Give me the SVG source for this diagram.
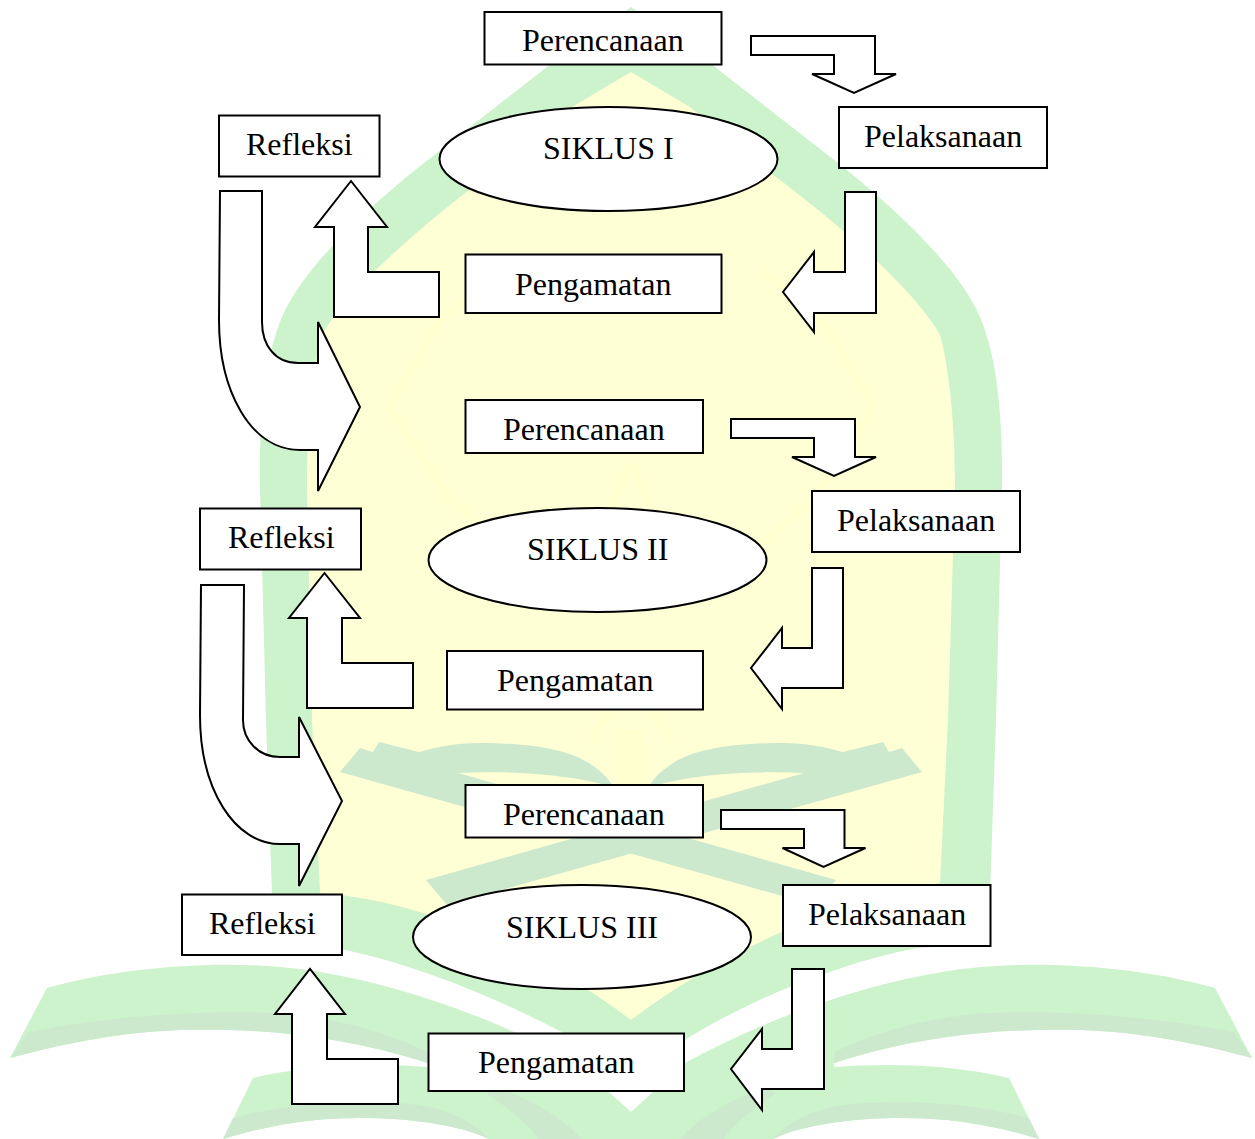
<svg xmlns="http://www.w3.org/2000/svg" width="1255" height="1139" viewBox="0 0 1255 1139">
<style>
.g{fill:#ccf3cc}
.y{fill:#ffffd6}
.d{fill:#cde9cd}
.f{fill:none;stroke:#ffffd0;stroke-width:8}
.n{fill:#fff;stroke:#000;stroke-width:2}
.c{fill:#fff;stroke:#000;stroke-width:2;stroke-linejoin:miter}
text{font-family:"Liberation Serif","Times New Roman",serif;font-size:32px;fill:#000}
</style>
<defs>
<g id="page">
<path class="g" d="M47,988C110,970 200,960 281,967C370,975 480,1010 577,1063L631,1112V1139H489C460,1125 410,1118 360,1118C310,1118 270,1125 223,1139L253,1078C300,1066 370,1062 428,1067V1063C340,1035 260,1028 180,1030C110,1033 60,1045 10,1058Z"/>
<path class="d" d="M10,1058L28,1032C100,1018 180,1012 241,1012C310,1012 370,1025 428,1052V1063C340,1035 260,1028 180,1030C110,1033 60,1045 10,1058Z"/>
<path class="d" d="M223,1139L233,1118C280,1105 340,1100 396,1103C440,1105 470,1118 489,1139C460,1125 410,1118 360,1118C310,1118 270,1125 223,1139Z"/>
<path class="d" d="M486,1093C510,1110 530,1125 538,1139H582C560,1115 530,1100 500,1088Z"/>
</g>
<path id="wing" class="d" d="M340,772L360,748L373,752L379,742L419,752C440,746 460,743 478,743C510,743 560,745 589,763C600,770 608,778 612,785H605C570,775 510,770 458,773L836,880L815,905L750,887Z"/>
</defs>
<g id="watermark">
<path class="g" d="M631,7L710,63L838,163C900,212 960,270 980,317C996,355 1003,410 1002,487L996,720L990,895L987,945L917,948C830,965 740,1005 685,1040L631,1088L577,1040C530,1015 440,970 345,950L275,945L272,895L266,720L260,487C259,410 266,355 282,317C302,270 362,212 424,163L552,63Z"/>
<path class="y" d="M631,72L690,107L776,177C840,225 915,290 940,335C950,370 955,430 955,487L948,720L940,883C842,900 722,950 631,1020C540,950 420,900 320,893L312,720L307,487C307,430 312,370 322,335C347,290 422,225 486,177L572,107Z"/>
<path class="f" d="M389,407L440,320L500,270M873,407L822,320L762,270M389,407L450,500L520,560M873,407L812,500L742,560M631,463L600,530M631,463L662,530M631,680L590,740M631,680L672,740"/>
<path fill="#ffffd0" d="M620,730H642L648,770L642,785H620L614,770Z"/>
<use href="#wing"/>
<use href="#wing" transform="translate(1262,0) scale(-1,1)"/>
<use href="#page"/>
<use href="#page" transform="translate(1262,0) scale(-1,1)"/>
</g>
<g id="connectors">
<path class="c" d="M751,36H875V74H896L854,93L812,74H834V55H751Z"/>
<path class="c" d="M845,192H876V313H814V332L783,292L814,252V272H845Z"/>
<path class="c" d="M439,317H334V227H315L351,181L387,227H368V272H439Z"/>
<path class="c" d="M220,191H262V322C262,345 275,363 298,363H318V322L360,407L318,491V450H300C250,450 219,390 219,320Z"/>
<path class="c" d="M731,419H855V457H876L834,476L792,457H814V438H731Z"/>
<path class="c" d="M812,568H843V688H782V709L751,668L782,628V648H812Z"/>
<path class="c" d="M413,708H307V618H289L324.500,573L360,618H342V663H413Z"/>
<path class="c" d="M201,585H244L243,720C243,740 258,757 280,757H299V717L342,801L299,886V844H280C235,844 200,790 200,715Z"/>
<path class="c" d="M721,810H844.500V848H865.500L823.500,867L782.500,848H804V829H721Z"/>
<path class="c" d="M792,969H824V1089H762V1110L731,1069L762,1029V1049H792Z"/>
<path class="c" d="M398,1104H292V1014H275L310,969L345,1014H327V1059H398Z"/>
</g>
<g id="perencanaan-1"><rect class="n" x="484.500" y="12" width="237" height="52.500"/><text x="522" y="51">Perencanaan</text></g>
<g id="pelaksanaan-1"><rect class="n" x="839" y="107" width="208" height="61"/><text x="864" y="147">Pelaksanaan</text></g>
<g id="pengamatan-1"><rect class="n" x="465.500" y="254.500" width="256" height="58.500"/><text x="515" y="295">Pengamatan</text></g>
<g id="refleksi-1"><rect class="n" x="219" y="115.500" width="160.500" height="61"/><text x="246" y="155">Refleksi</text></g>
<g id="siklus-1"><ellipse class="n" cx="608.500" cy="159" rx="169" ry="52"/><text x="543" y="159">SIKLUS I</text></g>
<g id="perencanaan-2"><rect class="n" x="465.500" y="400" width="237.500" height="53"/><text x="503" y="440">Perencanaan</text></g>
<g id="pelaksanaan-2"><rect class="n" x="812" y="491" width="208" height="61"/><text x="837" y="531">Pelaksanaan</text></g>
<g id="pengamatan-2"><rect class="n" x="447" y="651" width="256" height="58.500"/><text x="497" y="691">Pengamatan</text></g>
<g id="refleksi-2"><rect class="n" x="200" y="508.500" width="161" height="61"/><text x="228" y="548">Refleksi</text></g>
<g id="siklus-2"><ellipse class="n" cx="597.500" cy="560" rx="169" ry="52"/><text x="527" y="560">SIKLUS II</text></g>
<g id="perencanaan-3"><rect class="n" x="465.500" y="785" width="237.500" height="52.500"/><text x="503" y="825">Perencanaan</text></g>
<g id="pelaksanaan-3"><rect class="n" x="783" y="885" width="207.500" height="61"/><text x="808" y="925">Pelaksanaan</text></g>
<g id="pengamatan-3"><rect class="n" x="428.500" y="1033.500" width="255.500" height="57.500"/><text x="478" y="1073">Pengamatan</text></g>
<g id="refleksi-3"><rect class="n" x="182" y="894.500" width="160" height="60.500"/><text x="209" y="934">Refleksi</text></g>
<g id="siklus-3"><ellipse class="n" cx="582" cy="937" rx="169" ry="52"/><text x="506" y="938">SIKLUS III</text></g>
</svg>
